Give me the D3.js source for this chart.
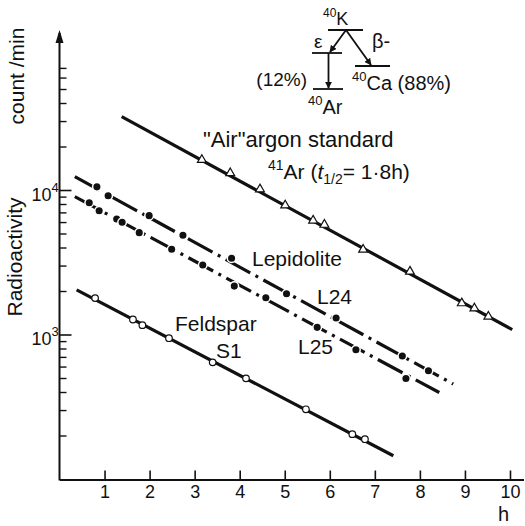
<!DOCTYPE html>
<html>
<head>
<meta charset="utf-8">
<script src="https://cdn.jsdelivr.net/npm/d3@7"></script>
<style>
body { margin:0; background:#fff; }
text { font-family:"Liberation Sans", Arial, sans-serif; fill:#111; }
</style>
</head>
<body>
<div id="figure"></div>
<script>

// "Air" argon standard, 41Ar  (t in h, activity in count/min)
var airT = [3.16, 3.79, 4.45, 5.01, 5.63, 5.88, 6.74, 7.78, 8.93, 9.21, 9.52];
var airV = [16300, 13200, 10200, 7900, 6200, 5800, 3900, 2750, 1660, 1530, 1340];
var airFitT = [1.38, 10.05];
var airFitV = [32500, 1090];

// Lepidolite L24
var l24T = [0.83, 1.08, 1.99, 2.74, 3.82, 5.04, 6.14, 7.61, 8.19];
var l24V = [10600, 9200, 6700, 4900, 3400, 1930, 1310, 716, 566];
var l24FitT = [0.34, 8.74];
var l24FitV = [12460, 458];

// Lepidolite L25
var l25T = [0.66, 0.88, 1.27, 1.39, 1.77, 2.49, 3.18, 3.88, 4.58, 5.72, 6.58, 7.69];
var l25V = [8230, 7240, 6350, 6030, 5110, 3920, 3050, 2180, 1810, 1130, 790, 500];
var l25FitT = [0.34, 8.43];
var l25FitV = [9060, 400];

// Feldspar S1
var s1T = [0.79, 1.63, 1.84, 2.43, 3.40, 4.14, 5.47, 6.50, 6.78];
var s1V = [1800, 1280, 1170, 950, 647, 501, 306, 206, 190];
var s1FitT = [0.38, 7.41];
var s1FitV = [2050, 146];

var xTicks = [1, 2, 3, 4, 5, 6, 7, 8, 9, 10];
var yMajor = [1000, 10000];
var yMinor = [200, 300, 400, 500, 600, 700, 800, 900,
              2000, 3000, 4000, 5000, 6000, 7000, 8000, 9000,
              20000, 30000, 40000, 50000, 60000, 70000];

var W = 525, H = 526;
var ink = "#111";

var svg = d3.select("#figure").append("svg")
	.attr("width", W).attr("height", H);

var x = d3.scaleLinear().domain([0, 10.3]).range([59.5, 523.5]);
var y = d3.scaleLog().domain([100, 125000]).range([479.5, 32]);

var defs = svg.append("defs");
defs.append("marker")
	.attr("id", "arr")
	.attr("viewBox", "0 0 10 10")
	.attr("refX", 9).attr("refY", 5)
	.attr("markerWidth", 7).attr("markerHeight", 7)
	.attr("markerUnits", "userSpaceOnUse")
	.attr("orient", "auto")
	.append("path").attr("d", "M0,0 L10,5 L0,10 z").attr("fill", ink);

// ---- axes
var xAxis = d3.axisBottom(x)
	.tickValues(xTicks)
	.tickSizeInner(-9)
	.tickSizeOuter(0)
	.tickPadding(6)
	.tickFormat(d3.format("d"));

var gx = svg.append("g")
	.attr("transform", "translate(0," + y(100) + ")")
	.call(xAxis);
gx.select(".domain").attr("stroke", ink).attr("stroke-width", 2);
gx.selectAll(".tick line").attr("stroke", ink).attr("stroke-width", 1.6);
gx.selectAll(".tick text")
	.attr("font-size", "18px")
	.attr("font-family", "Liberation Sans, Arial, sans-serif")
	.attr("fill", ink);

// y axis line with arrow at top
svg.append("line")
	.attr("x1", x(0)).attr("x2", x(0))
	.attr("y1", y(100) + 1).attr("y2", y(125000) + 1)
	.attr("stroke", ink).attr("stroke-width", 2);
svg.append("path")
	.attr("d", "M" + x(0) + "," + (y(125000) - 2) + " l-4,13 l8,0 z")
	.attr("fill", ink);

svg.selectAll("line.ymin")
	.data(yMinor)
	.enter()
	.append("line")
	.attr("class", "ymin")
	.attr("x1", x(0)).attr("x2", x(0) + 7)
	.attr("y1", function(d) { return y(d); })
	.attr("y2", function(d) { return y(d); })
	.attr("stroke", ink).attr("stroke-width", 1.4);

svg.selectAll("line.ymaj")
	.data(yMajor)
	.enter()
	.append("line")
	.attr("class", "ymaj")
	.attr("x1", x(0)).attr("x2", x(0) + 12)
	.attr("y1", function(d) { return y(d); })
	.attr("y2", function(d) { return y(d); })
	.attr("stroke", ink).attr("stroke-width", 1.6);

var ylab = svg.selectAll("text.ymaj")
	.data(yMajor)
	.enter()
	.append("text")
	.attr("class", "ymaj")
	.attr("x", x(0) - 28)
	.attr("y", function(d) { return y(d) + 10; })
	.attr("font-size", "18px");
ylab.append("tspan").text("10");
ylab.append("tspan")
	.attr("dy", -9)
	.attr("font-size", "13px")
	.text(function(d) { return Math.round(Math.log10(d)); });

// axis titles
svg.append("text")
	.attr("transform", "translate(24,76)rotate(-90)")
	.attr("text-anchor", "middle")
	.attr("font-size", "21px")
	.text("count /min");
svg.append("text")
	.attr("transform", "translate(22,257)rotate(-90)")
	.attr("text-anchor", "middle")
	.attr("font-size", "21px")
	.text("Radioactivity");
svg.append("text")
	.attr("x", 498).attr("y", 521)
	.attr("font-size", "20px")
	.text("h");

// ---- fitted lines
var line = d3.line()
	.x(function(d) { return x(d[0]); })
	.y(function(d) { return y(d[1]); });

function fit(T, V) { return T.map(function(t, i) { return [t, V[i]]; }); }

svg.append("path").datum(fit(airFitT, airFitV))
	.attr("d", line).attr("fill", "none")
	.attr("stroke", ink).attr("stroke-width", 3.2);
svg.append("path").datum(fit(s1FitT, s1FitV))
	.attr("d", line).attr("fill", "none")
	.attr("stroke", ink).attr("stroke-width", 3.2);
svg.append("path").datum(fit(l24FitT, l24FitV))
	.attr("d", line).attr("fill", "none")
	.attr("stroke", ink).attr("stroke-width", 3.2)
	.attr("stroke-dasharray", "28,6,3,6");
svg.append("path").datum(fit(l25FitT, l25FitV))
	.attr("d", line).attr("fill", "none")
	.attr("stroke", ink).attr("stroke-width", 3.2)
	.attr("stroke-dasharray", "28,6,3,6");

// ---- points
svg.selectAll("path.air")
	.data(fit(airT, airV))
	.enter()
	.append("path")
	.attr("class", "air")
	.attr("transform", function(d) { return "translate(" + x(d[0]) + "," + y(d[1]) + ")"; })
	.attr("d", d3.symbol().type(d3.symbolTriangle).size(34))
	.attr("fill", "#fff").attr("stroke", ink).attr("stroke-width", 1.2);

svg.selectAll("circle.s1")
	.data(fit(s1T, s1V))
	.enter()
	.append("circle")
	.attr("class", "s1")
	.attr("cx", function(d) { return x(d[0]); })
	.attr("cy", function(d) { return y(d[1]); })
	.attr("r", 3.3)
	.attr("fill", "#fff").attr("stroke", ink).attr("stroke-width", 1.2);

svg.selectAll("circle.lep")
	.data(fit(l24T, l24V).concat(fit(l25T, l25V)))
	.enter()
	.append("circle")
	.attr("class", "lep")
	.attr("cx", function(d) { return x(d[0]); })
	.attr("cy", function(d) { return y(d[1]); })
	.attr("r", 4.3)
	.attr("fill", ink).attr("stroke", "#fff").attr("stroke-width", 1.5);

// ---- labels
svg.append("text").attr("x", 203).attr("y", 147)
	.attr("font-size", "22px").text("\"Air\"argon standard");

var ar41 = svg.append("text").attr("x", 268).attr("y", 179).attr("font-size", "21px");
ar41.append("tspan").attr("font-size", "14px").attr("dy", -9).text("41");
ar41.append("tspan").attr("dy", 9).text("Ar (");
ar41.append("tspan").attr("font-style", "italic").text("t");
ar41.append("tspan").attr("font-size", "14px").attr("dy", 5).text("1/2");
ar41.append("tspan").attr("dy", -5).text("= 1·8h)");

svg.append("text").attr("x", 252).attr("y", 266)
	.attr("font-size", "21px").text("Lepidolite");
svg.append("text").attr("x", 317).attr("y", 304)
	.attr("font-size", "21px").text("L24");
svg.append("text").attr("x", 298).attr("y", 354)
	.attr("font-size", "21px").text("L25");
svg.append("text").attr("x", 175).attr("y", 331)
	.attr("font-size", "21px").text("Feldspar");
svg.append("text").attr("x", 216).attr("y", 358)
	.attr("font-size", "21px").text("S1");

// ---- decay scheme 40K
var scheme = svg.append("g").attr("stroke", ink).attr("stroke-width", 1.8);
scheme.append("line").attr("x1", 328).attr("x2", 363).attr("y1", 30).attr("y2", 30);
scheme.append("line").attr("x1", 312).attr("x2", 342).attr("y1", 53).attr("y2", 53);
scheme.append("line").attr("x1", 355).attr("x2", 390).attr("y1", 66).attr("y2", 66);
scheme.append("line").attr("x1", 313).attr("x2", 343).attr("y1", 89).attr("y2", 89);
scheme.append("line").attr("x1", 346).attr("y1", 30).attr("x2", 330).attr("y2", 52)
	.attr("marker-end", "url(#arr)");
scheme.append("line").attr("x1", 346).attr("y1", 30).attr("x2", 371).attr("y2", 65)
	.attr("marker-end", "url(#arr)");
scheme.append("line").attr("x1", 328.5).attr("y1", 53).attr("x2", 328.5).attr("y2", 88)
	.attr("marker-end", "url(#arr)");

var k40 = svg.append("text").attr("x", 323).attr("y", 25).attr("font-size", "18px");
k40.append("tspan").attr("font-size", "12px").attr("dy", -8).text("40");
k40.append("tspan").attr("dy", 8).text("K");

svg.append("text").attr("x", 314).attr("y", 48).attr("font-size", "19px").text("ε");
svg.append("text").attr("x", 372).attr("y", 48).attr("font-size", "20px").text("β-");

svg.append("text").attr("x", 307).attr("y", 86)
	.attr("text-anchor", "end").attr("font-size", "19px").text("(12%)");

var ar40 = svg.append("text").attr("x", 308).attr("y", 114).attr("font-size", "20px");
ar40.append("tspan").attr("font-size", "13px").attr("dy", -9).text("40");
ar40.append("tspan").attr("dy", 9).text("Ar");

var ca40 = svg.append("text").attr("x", 352).attr("y", 90).attr("font-size", "20px");
ca40.append("tspan").attr("font-size", "13px").attr("dy", -9).text("40");
ca40.append("tspan").attr("dy", 9).text("Ca (88%)");

</script>
</body>
</html>
